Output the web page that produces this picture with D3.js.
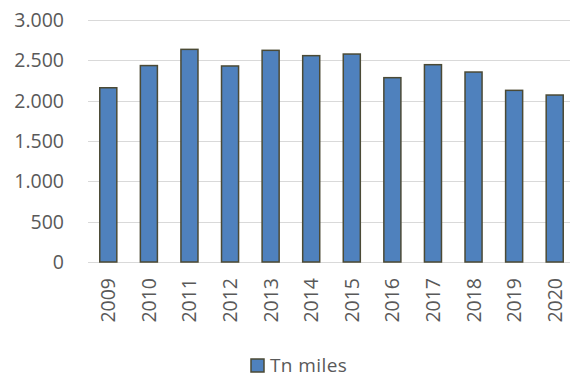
<!DOCTYPE html>
<html>
<head>
<meta charset="utf-8">
<script src="https://cdn.jsdelivr.net/npm/d3@7"></script>
<style>
  body { margin: 0; background: #fff; }
  text { font-family: "Open Sans", sans-serif; fill: #595959; }
</style>
</head>
<body>
<div id="chart"></div>
<script>
var years = ["2009","2010","2011","2012","2013","2014","2015","2016","2017","2018","2019","2020"];
var tnMiles = [2160, 2435, 2636, 2430, 2624, 2558, 2578, 2285, 2446, 2355, 2128, 2070];
var yTicks = [0, 500, 1000, 1500, 2000, 2500, 3000];
var seriesName = "Tn miles";

var width = 570, height = 377;

var svg = d3.select("#chart").append("svg")
    .attr("width", width)
    .attr("height", height);

var x = d3.scaleBand()
    .domain(years)
    .range([88, 575])
    .paddingInner(0.58)
    .paddingOuter(0.29);

var y = d3.scaleLinear()
    .domain([0, 3000])
    .range([262, 20]);

var fmt = function(v) { return d3.format(",")(v).replace(/,/g, "."); };

// gridlines
svg.append("g")
  .selectAll("line")
  .data(yTicks)
  .enter().append("line")
    .attr("x1", 88)
    .attr("x2", 570)
    .attr("y1", function(d) { return Math.round(y(d)) + 0.5; })
    .attr("y2", function(d) { return Math.round(y(d)) + 0.5; })
    .style("stroke", "#d9d9d9")
    .style("stroke-width", 1);

// y labels
svg.append("g")
  .selectAll("text")
  .data(yTicks)
  .enter().append("text")
    .attr("x", 64)
    .attr("y", function(d) { return y(d) + 7; })
    .attr("text-anchor", "end")
    .style("font-size", "19.5px")
    .text(fmt);

// bars
svg.append("g")
  .selectAll("rect")
  .data(tnMiles)
  .enter().append("rect")
    .attr("x", function(d, i) { return x(years[i]); })
    .attr("y", function(d) { return y(d); })
    .attr("width", x.bandwidth())
    .attr("height", function(d) { return y(0) - y(d); })
    .style("fill", "#4f81bd")
    .style("stroke", "#4b4a35")
    .style("stroke-width", 1.5);

// x labels, rotated
svg.append("g")
  .selectAll("text")
  .data(years)
  .enter().append("text")
    .attr("transform", function(d) {
      return "translate(" + (x(d) + x.bandwidth() / 2 + 7) + ",278) rotate(-90)";
    })
    .attr("text-anchor", "end")
    .style("font-size", "19.5px")
    .text(function(d) { return d; });

// legend
var legend = svg.append("g").attr("transform", "translate(251,359)");
legend.append("rect")
    .attr("width", 13)
    .attr("height", 13)
    .style("fill", "#4f81bd")
    .style("stroke", "#4b4a35")
    .style("stroke-width", 1.5);
legend.append("text")
    .attr("x", 19)
    .attr("y", 13)
    .style("font-size", "19px")
    .style("letter-spacing", "0.4px")
    .text(seriesName);
</script>
</body>
</html>
